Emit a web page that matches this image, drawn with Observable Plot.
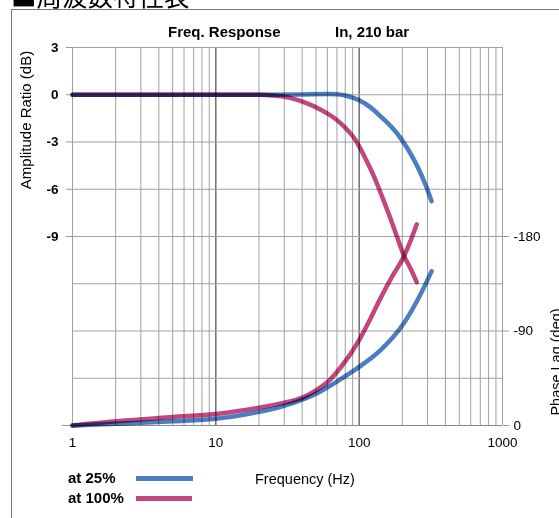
<!DOCTYPE html>
<html>
<head>
<meta charset="utf-8">
<script src="https://cdn.jsdelivr.net/npm/d3@7"></script>
<script src="https://cdn.jsdelivr.net/npm/@observablehq/plot@0.6"></script>
<style>
  html, body { margin: 0; padding: 0; background: #fff; }
  #wrap { position: relative; width: 559px; height: 518px; overflow: hidden; font-family: "Liberation Sans", Arial, sans-serif; }
  #wrap .abs { position: absolute; white-space: nowrap; }
</style>
</head>
<body>
<div id="wrap">
  <div class="abs" id="kanji" style="left:11px; top:-18px; font-family:'Noto Sans CJK JP'; font-size:25.5px; line-height:25px; color:#000;">■周波数特性表</div>
  <div class="abs" style="left:11px; top:9px; width:600px; height:600px; border-left:1.5px solid #777; border-top:1.5px solid #777;"></div>
  <div class="abs" id="chart" style="left:0; top:0;"></div>
  <div class="abs" style="left:168px; top:23px; font-size:15px; font-weight:bold;">Freq. Response</div>
  <div class="abs" style="left:335px; top:23px; font-size:15px; font-weight:bold;">In, 210 bar</div>
  <div class="abs" style="left:25px; top:120px; font-size:15px; transform:translate(-50%,-50%) rotate(-90deg);">Amplitude Ratio (dB)</div>
  <div class="abs" style="left:556px; top:362px; font-size:14.5px; transform:translate(-50%,-50%) rotate(-90deg);">Phase Lag (deg)</div>
  <div class="abs" style="left:255px; top:471px; font-size:14.5px;">Frequency (Hz)</div>
  <div class="abs" style="left:68px; top:469px; font-size:15px; font-weight:bold;">at 25%</div>
  <div class="abs" style="left:68px; top:489px; font-size:15px; font-weight:bold;">at 100%</div>
  <div class="abs" id="leg25" style="left:136px; top:476px; width:57px; height:5px;"></div>
  <div class="abs" id="leg100" style="left:136px; top:496px; width:56px; height:5px;"></div>
</div>
<script>
// ---- data ----
const seriesNames = ["at 25%", "at 100%"];
const seriesColors = ["#4a7ec0", "#c2477e"];

// amplitude ratio (dB)
const amp25Freq = [1, 10, 20, 40, 60, 70, 80, 90, 100, 120, 141, 170, 194, 225, 254, 290, 320];
const amp25dB   = [0, 0, 0, 0.02, 0.04, 0.03, -0.05, -0.18, -0.35, -0.8, -1.37, -2.1, -2.74, -3.65, -4.53, -5.7, -6.76];
const amp100Freq = [1, 10, 20, 25, 33, 42, 54, 64, 74, 85, 94, 110, 127, 145, 166, 185, 205, 230, 252];
const amp100dB   = [0, 0, 0, -0.05, -0.2, -0.5, -0.95, -1.35, -1.8, -2.35, -2.85, -4.0, -5.2, -6.5, -7.9, -9.1, -10.2, -11.1, -11.9];

// phase lag (deg)
const ph25Freq = [1, 2, 3, 5, 10, 20, 28, 41, 48, 74, 100, 141, 205, 267, 320];
const ph25Deg  = [0, 1.6, 2.6, 4, 6.4, 13, 17.5, 25, 29, 44, 55.8, 71.8, 97.4, 124.5, 146.8];
const ph100Freq = [1, 2, 3, 5, 10, 20, 28, 41, 48, 63, 74, 100, 120, 141, 170, 205, 230, 252];
const ph100Deg  = [0, 4, 5.7, 8, 11, 17, 20.8, 27, 32, 44, 55, 81.4, 102, 121.3, 142, 161, 177, 191.5];

// axes
const xTickLabels = [1, 10, 100, 1000];
const xGrid = [1,2,3,4,5,6,7,8,9,10,20,30,40,50,60,70,80,90,100,200,300,400,500,600,700,800,900,1000];
const xMajor = [10, 100];
const dbTicks = [3, 0, -3, -6, -9];
const dbGrid = [3, 0, -3, -6, -9, -12, -15, -18, -21];
const phaseTicks = [0, 90, 180];       // plotted as lag, labelled negative
const dbDomain = [-21, 3];
const phaseSpan = 360;                 // phase range covering the full height

// map phase lag onto the dB scale (right axis shares the frame)
const phToDb = p => dbDomain[0] + p * (dbDomain[1] - dbDomain[0]) / phaseSpan;
const dbToPh = v => Math.round((v - dbDomain[0]) * phaseSpan / (dbDomain[1] - dbDomain[0]));

const rows = [];
amp25Freq.forEach((f, i) => rows.push({s: seriesNames[0], k: "amp", f, v: amp25dB[i]}));
amp100Freq.forEach((f, i) => rows.push({s: seriesNames[1], k: "amp", f, v: amp100dB[i]}));
ph25Freq.forEach((f, i) => rows.push({s: seriesNames[0], k: "ph", f, v: phToDb(ph25Deg[i])}));
ph100Freq.forEach((f, i) => rows.push({s: seriesNames[1], k: "ph", f, v: phToDb(ph100Deg[i])}));

const chart = Plot.plot({
  width: 559,
  height: 518,
  marginLeft: 72,
  marginRight: 57,
  marginTop: 47,
  marginBottom: 93,
  style: {fontFamily: "'Liberation Sans', Arial, sans-serif", background: "transparent", overflow: "visible"},
  x: {type: "log", domain: [1, 1000]},
  y: {domain: dbDomain},
  color: {domain: seriesNames, range: seriesColors},
  marks: [
    Plot.ruleX(xGrid, {stroke: "#a0a0a0", strokeWidth: 1}),
    Plot.ruleX(xMajor, {stroke: "#505050", strokeWidth: 1}),
    Plot.ruleY(dbGrid, {stroke: "#a0a0a0", strokeWidth: 1}),
    Plot.ruleY([dbDomain[0]], {stroke: "#888", strokeWidth: 1.2}),
    Plot.axisY({anchor: "left", ticks: dbTicks, tickSize: 6, tickPadding: 8, fontSize: 13.5, fontWeight: "bold", stroke: "#999", label: null, tickFormat: d => String(d)}),
    Plot.axisY({anchor: "left", ticks: [dbDomain[0]], tickSize: 10, stroke: "#999", label: null, tickFormat: () => ""}),
    Plot.axisY({anchor: "right", ticks: phaseTicks.map(phToDb), tickSize: 6, tickPadding: 5, fontSize: 13.5, stroke: "#999", label: null,
      tickFormat: d => { const p = dbToPh(d); return p === 0 ? "0" : String(-p); }}),
    Plot.axisX({ticks: xTickLabels, tickSize: 0, tickPadding: 12, fontSize: 13.5, label: null, tickFormat: d => String(d)}),
    Plot.line(rows, {x: "f", y: "v", z: d => d.s + d.k, stroke: "s", strokeWidth: 4.5, curve: "monotone-x",
      strokeLinecap: "round", strokeLinejoin: "round", mixBlendMode: "multiply"})
  ]
});
document.getElementById("chart").appendChild(chart);
document.getElementById("leg25").style.background = seriesColors[0];
document.getElementById("leg100").style.background = seriesColors[1];
</script>
</body>
</html>
